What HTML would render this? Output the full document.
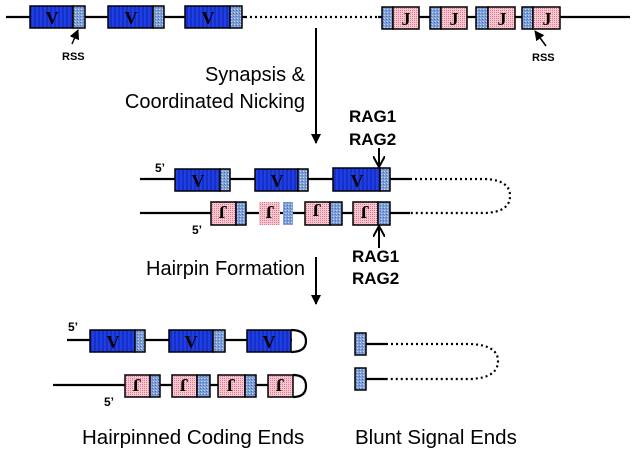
<!DOCTYPE html>
<html><head><style>body{margin:0;background:#fff}svg{display:block}</style></head><body>
<svg width="637" height="451" viewBox="0 0 637 451" xmlns="http://www.w3.org/2000/svg" font-family="Liberation Sans, Arial, sans-serif">
<defs>
<pattern id="vs" width="4" height="4" patternUnits="userSpaceOnUse"><rect width="4" height="4" fill="#1f3fe6"/><rect x="2.5" width="1" height="4" fill="#0b1fa8"/></pattern>
<pattern id="rs" width="3" height="3" patternUnits="userSpaceOnUse"><rect width="3" height="3" fill="#7f9fd8"/><rect width="1" height="1" fill="#c8d8f0"/><rect x="2" y="1" width="1" height="1" fill="#4d6fb8"/></pattern>
<pattern id="pk" width="2" height="2" patternUnits="userSpaceOnUse"><rect width="2" height="2" fill="#f8c8d0"/><rect width="1" height="1" fill="#e07a90"/></pattern>
<marker id="ah" markerWidth="10" markerHeight="10" refX="9" refY="5" orient="auto" markerUnits="userSpaceOnUse"><path d="M0,0 L10,5 L0,10 Z" fill="#000"/></marker>
<marker id="oa" markerWidth="12" markerHeight="12" refX="11" refY="6" orient="auto" markerUnits="userSpaceOnUse"><path d="M0,0 L11,6 L0,12" fill="none" stroke="#000" stroke-width="2"/></marker>
</defs>
<g stroke="#000" stroke-width="2.2" fill="none">
<line x1="6" y1="17" x2="245" y2="17"/>
<line x1="245" y1="17" x2="378" y2="17" stroke-dasharray="2,3"/>
<line x1="378" y1="17" x2="630" y2="17"/>
<line x1="140" y1="179" x2="410" y2="179"/>
<line x1="140" y1="213" x2="410" y2="213"/>
<path d="M410,179 L485,179 Q510,180 510,196 Q510,212 485,213 L410,213" stroke-dasharray="2,3"/>
<line x1="67" y1="340" x2="292" y2="340"/>
<line x1="53" y1="385" x2="293" y2="385"/>
<path d="M291,330 Q306,330 306,341 Q306,352 291,352"/>
<path d="M293,375 Q306,375 306,386 Q306,397 293,397"/>
<line x1="366" y1="344" x2="386" y2="344"/>
<line x1="366" y1="379" x2="386" y2="379"/>
<path d="M386,344 L470,344 Q498,345 498,361 Q498,378 470,379 L386,379" stroke-dasharray="2,3"/>
</g>
<g stroke="#000" stroke-width="1.5">
<rect x="30" y="6" width="43" height="22" fill="url(#vs)"/><rect x="73" y="6" width="12" height="22" fill="url(#rs)"/>
<rect x="108" y="6" width="45" height="22" fill="url(#vs)"/><rect x="153" y="6" width="11" height="22" fill="url(#rs)"/>
<rect x="185" y="6" width="45" height="22" fill="url(#vs)"/><rect x="230" y="6" width="12" height="22" fill="url(#rs)"/>
<rect x="382" y="7" width="11" height="22" fill="url(#rs)"/><rect x="393" y="7" width="26" height="22" fill="url(#pk)"/>
<rect x="430" y="7" width="11" height="22" fill="url(#rs)"/><rect x="441" y="7" width="26" height="22" fill="url(#pk)"/>
<rect x="476" y="7" width="12" height="22" fill="url(#rs)"/><rect x="488" y="7" width="27" height="22" fill="url(#pk)"/>
<rect x="522" y="7" width="11" height="22" fill="url(#rs)"/><rect x="533" y="7" width="27" height="22" fill="url(#pk)"/>
<rect x="175" y="169" width="45" height="22" fill="url(#vs)"/><rect x="220" y="169" width="10" height="22" fill="url(#rs)"/>
<rect x="255" y="169" width="43" height="22" fill="url(#vs)"/><rect x="298" y="169" width="10" height="22" fill="url(#rs)"/>
<rect x="333" y="168" width="47" height="23" fill="url(#vs)"/><rect x="380" y="168" width="10" height="23" fill="url(#rs)"/>
<rect x="211" y="202" width="25" height="23" fill="url(#pk)"/><rect x="236" y="202" width="10" height="23" fill="url(#rs)"/>
<rect x="259" y="202" width="21" height="23" fill="url(#pk)" stroke="none"/><rect x="283" y="202" width="10" height="23" fill="url(#rs)" stroke="none"/>
<rect x="305" y="202" width="25" height="23" fill="url(#pk)"/><rect x="330" y="202" width="12" height="23" fill="url(#rs)"/>
<rect x="353" y="202" width="25" height="23" fill="url(#pk)"/><rect x="378" y="202" width="12" height="23" fill="url(#rs)"/>
<rect x="90" y="330" width="45" height="22" fill="url(#vs)"/><rect x="135" y="330" width="10" height="22" fill="url(#rs)"/>
<rect x="169" y="330" width="44" height="22" fill="url(#vs)"/><rect x="213" y="330" width="12" height="22" fill="url(#rs)"/>
<rect x="247" y="330" width="44" height="22" fill="url(#vs)"/>
<rect x="125" y="375" width="25" height="22" fill="url(#pk)"/><rect x="150" y="375" width="10" height="22" fill="url(#rs)"/>
<rect x="172" y="375" width="25" height="22" fill="url(#pk)"/><rect x="197" y="375" width="13" height="22" fill="url(#rs)"/>
<rect x="218" y="375" width="27" height="22" fill="url(#pk)"/><rect x="245" y="375" width="11" height="22" fill="url(#rs)"/>
<rect x="268" y="375" width="25" height="22" fill="url(#pk)"/>
<rect x="355" y="333" width="11" height="22" fill="url(#rs)"/>
<rect x="355" y="368" width="11" height="22" fill="url(#rs)"/>
</g>
<g font-family="Liberation Serif, serif" font-weight="bold" font-size="18" fill="#000" text-anchor="middle">
<text x="52" y="24">V</text><text x="131" y="24">V</text><text x="208" y="24">V</text>
<text x="406" y="25">J</text><text x="454" y="25">J</text><text x="502" y="25">J</text><text x="547" y="25">J</text>
<text x="198" y="187">V</text><text x="277" y="187">V</text><text x="357" y="187">V</text>
<text x="113" y="348">V</text><text x="191" y="348">V</text><text x="269" y="348">V</text>
</g>
<g font-family="Liberation Serif, serif" font-weight="bold" font-size="18" fill="#000" text-anchor="middle">
<text transform="translate(223,206) rotate(180)">J</text>
<text transform="translate(270,206) rotate(180)">J</text>
<text transform="translate(317,204) rotate(180)">J</text>
<text transform="translate(365,206) rotate(180)">J</text>
<text transform="translate(137,379) rotate(180)">J</text>
<text transform="translate(184,379) rotate(180)">J</text>
<text transform="translate(231,379) rotate(180)">J</text>
<text transform="translate(280,379) rotate(180)">J</text>
</g>
<g stroke="#000" stroke-width="2">
<line x1="316" y1="28" x2="316" y2="143" marker-end="url(#ah)"/>
<line x1="316" y1="257" x2="316" y2="304" marker-end="url(#ah)"/>
<line x1="72" y1="44" x2="78" y2="30" stroke-width="1.5" marker-end="url(#ah)"/>
<line x1="546" y1="46" x2="535" y2="31" stroke-width="1.5" marker-end="url(#ah)"/>
<line x1="379" y1="148" x2="379" y2="167" marker-end="url(#oa)"/>
<line x1="379" y1="248" x2="379" y2="226" marker-end="url(#oa)"/>
</g>
<g fill="#000">
<text x="62" y="60" font-size="11" font-weight="bold">RSS</text>
<text x="532" y="61" font-size="11" font-weight="bold">RSS</text>
<text x="305" y="81" font-size="20" text-anchor="end">Synapsis &amp;</text>
<text x="305" y="108" font-size="20" text-anchor="end">Coordinated Nicking</text>
<text x="305" y="275" font-size="20" text-anchor="end">Hairpin Formation</text>
<text x="349" y="122" font-size="17" font-weight="bold">RAG1</text>
<text x="349" y="145" font-size="17" font-weight="bold">RAG2</text>
<text x="352" y="262" font-size="17" font-weight="bold">RAG1</text>
<text x="352" y="284" font-size="17" font-weight="bold">RAG2</text>
<text x="155" y="172" font-size="12" font-weight="bold">5’</text>
<text x="192" y="234" font-size="12" font-weight="bold">5’</text>
<text x="68" y="331" font-size="12" font-weight="bold">5’</text>
<text x="104" y="406" font-size="12" font-weight="bold">5’</text>
<text x="82" y="444" font-size="20.5">Hairpinned Coding Ends</text>
<text x="355" y="444" font-size="20.5">Blunt Signal Ends</text>
</g>
</svg>
</body></html>
